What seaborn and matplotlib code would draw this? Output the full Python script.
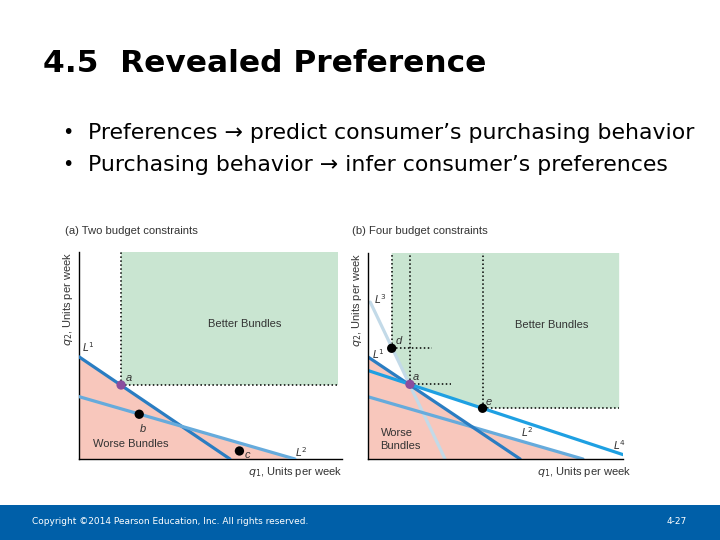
import matplotlib
matplotlib.use("Agg")
import matplotlib.pyplot as plt
import seaborn as sns
import numpy as np
import pandas as pd
from matplotlib.patches import Rectangle

# ---- data (q1 in 0-10, q2 in 0-8 axis units) ----
# panel (a): two budget lines, given as (q2 intercept, q1 intercept)
a_lines = ["L1", "L2"]
a_q2_int = [3.95, 2.41]
a_q1_int = [5.74, 8.21]
a_points = ["a", "b", "c"]
a_pt_q1 = [1.60, 2.29, 6.10]
a_pt_q2 = [2.86, 1.73, 0.31]

# panel (b): four budget lines
b_lines = ["L1", "L2", "L3", "L4"]
b_q2_int = [3.97, 2.42, 6.30, 3.44]
b_q1_int = [5.97, 8.43, 3.03, 10.52]
b_q1_start = [0.0, 0.0, 0.10, 0.0]
b_q1_end = [5.97, 8.43, 3.03, 10.0]
b_points = ["a", "d", "e"]
b_pt_q1 = [1.655, 0.94, 4.50]
b_pt_q2 = [2.90, 4.30, 1.97]

XMAX, YMAX = 10, 8
GREEN_RIGHT = 9.85

line_colors = {"L1": "#2a7dc2", "L2": "#66abdc", "L3": "#c3dae8", "L4": "#1ea0e2"}
GREEN = "#c9e5d1"
PINK = "#f8c7bc"
TXT = "#333333"

sns.set_style("white")
plt.rcParams["font.family"] = ["DejaVu Sans"]
plt.rcParams["mathtext.fontset"] = "dejavusans"
plt.rcParams["text.color"] = "black"

fig = plt.figure(figsize=(7.2, 5.4), dpi=100)


def budget_y(q2i, q1i, x):
    return np.clip(q2i * (1 - x / q1i), 0, None)


def style_axes(ax):
    ax.set_xlim(0, XMAX)
    ax.set_ylim(0, YMAX)
    ax.set_xticks([])
    ax.set_yticks([])
    ax.set_xlabel("")
    ax.set_ylabel("")
    for s in ["top", "right"]:
        ax.spines[s].set_visible(False)
    for s in ["left", "bottom"]:
        ax.spines[s].set_color("black")
        ax.spines[s].set_linewidth(1.0)
    ax.patch.set_alpha(0)


def lbl(ax, x, y, s, **kw):
    kw.setdefault("fontsize", 8)
    kw.setdefault("color", TXT)
    kw.setdefault("family", "Liberation Sans")
    ax.text(x, y, s, **kw)


dots = dict(color="black", lw=1.1, linestyle=(0, (1, 1.6)), zorder=2)

# ---------------- panel (a) ----------------
ax1 = fig.add_axes([79 / 720, 81 / 540, 263 / 720, 207 / 540])
xs = np.linspace(0, XMAX, 600)
worse = np.maximum(budget_y(a_q2_int[0], a_q1_int[0], xs), budget_y(a_q2_int[1], a_q1_int[1], xs))
ax1.fill_between(xs, 0, worse, color=PINK, lw=0, zorder=0)
pa = (a_pt_q1[0], a_pt_q2[0])
ax1.fill_between([pa[0], GREEN_RIGHT], pa[1], YMAX, color=GREEN, lw=0, zorder=0)
ax1.plot([pa[0], pa[0]], [pa[1], YMAX], **dots)
ax1.plot([pa[0], GREEN_RIGHT], [pa[1], pa[1]], **dots)

df_a = pd.DataFrame({
    "line": [n for n in a_lines for _ in range(2)],
    "q1": [v for q1 in a_q1_int for v in (0, q1)],
    "q2": [v for q2 in a_q2_int for v in (q2, 0)],
})
sns.lineplot(df_a, x="q1", y="q2", hue="line", palette=line_colors, estimator=None,
             lw=2.3, legend=False, ax=ax1, zorder=3)
sns.scatterplot(x=a_pt_q1, y=a_pt_q2, hue=a_points,
                palette={"a": "#8a4e9e", "b": "black", "c": "black"},
                s=45, edgecolor="none", legend=False, ax=ax1, zorder=4)
style_axes(ax1)

lbl(ax1, 6.3, 5.2, "Better Bundles", ha="center", va="center")
lbl(ax1, 1.95, 0.58, "Worse Bundles", ha="center", va="center")
lbl(ax1, 1.78, 3.03, "a", style="italic")
lbl(ax1, 2.32, 1.05, "b", style="italic")
lbl(ax1, 6.3, 0.05, "c", style="italic")
lbl(ax1, 0.12, 4.15, "$L^1$", family="DejaVu Sans", fontsize=7.5)
lbl(ax1, 8.2, 0.08, "$L^2$", family="DejaVu Sans", fontsize=7.5)
lbl(ax1, 10.0, -0.22, "$q_1$, Units per week", ha="right", va="top")
lbl(ax1, -0.42, YMAX, "$q_2$, Units per week", ha="center", va="top", rotation=90)
fig.text(65 / 720, 1 - 231 / 540, "(a) Two budget constraints", fontsize=8.1, color=TXT,
         family="Liberation Sans", va="center")

# ---------------- panel (b) ----------------
ax2 = fig.add_axes([367.7 / 720, 81 / 540, 255.3 / 720, 206 / 540])
worse_b = np.maximum(budget_y(b_q2_int[0], b_q1_int[0], xs), budget_y(b_q2_int[1], b_q1_int[1], xs))
ax2.fill_between(xs, 0, worse_b, color=PINK, lw=0, zorder=0)
pa, pd_, pe = [(b_pt_q1[i], b_pt_q2[i]) for i in range(3)]
green_x = [pd_[0], pd_[0], pa[0], pe[0], GREEN_RIGHT, GREEN_RIGHT]
green_y = [YMAX, pd_[1], pa[1], pe[1], pe[1], YMAX]
ax2.fill(green_x, green_y, color=GREEN, lw=0, zorder=0)
ax2.plot([pd_[0], pd_[0]], [pd_[1], YMAX], **dots)
ax2.plot([pd_[0], 2.52], [pd_[1], pd_[1]], **dots)
ax2.plot([pa[0], pa[0]], [pa[1], YMAX], **dots)
ax2.plot([pa[0], 3.26], [pa[1], pa[1]], **dots)
ax2.plot([pe[0], pe[0]], [pe[1], YMAX], **dots)
ax2.plot([pe[0], GREEN_RIGHT], [pe[1], pe[1]], **dots)

rows = []
for n, q2i, q1i, x0, x1 in zip(b_lines, b_q2_int, b_q1_int, b_q1_start, b_q1_end):
    for x in (x0, x1):
        rows.append((n, x, q2i * (1 - x / q1i)))
df_b = pd.DataFrame(rows, columns=["line", "q1", "q2"])
order = {"L3": 1, "L2": 2, "L1": 3, "L4": 4}
for n in ["L3", "L2", "L1", "L4"]:
    sns.lineplot(df_b[df_b.line == n], x="q1", y="q2", color=line_colors[n], estimator=None,
                 lw=2.3, legend=False, ax=ax2, zorder=2 + order[n] / 10)
sns.scatterplot(x=b_pt_q1, y=b_pt_q2, hue=b_points,
                palette={"a": "#8a4e9e", "d": "black", "e": "black"},
                s=45, edgecolor="none", legend=False, ax=ax2, zorder=4)
style_axes(ax2)

lbl(ax2, 7.2, 5.2, "Better Bundles", ha="center", va="center")
lbl(ax2, 0.5, 0.75, "Worse\nBundles", ha="left", va="center", linespacing=1.3)
lbl(ax2, 1.78, 3.05, "a", style="italic")
lbl(ax2, 1.1, 4.45, "d", style="italic")
lbl(ax2, 4.62, 2.1, "e", style="italic")
lbl(ax2, 0.25, 6.0, "$L^3$", family="DejaVu Sans", fontsize=7.5)
lbl(ax2, 0.15, 3.9, "$L^1$", family="DejaVu Sans", fontsize=7.5)
lbl(ax2, 6.0, 0.85, "$L^2$", family="DejaVu Sans", fontsize=7.5)
lbl(ax2, 9.6, 0.35, "$L^4$", family="DejaVu Sans", fontsize=7.5)
lbl(ax2, 10.3, -0.22, "$q_1$, Units per week", ha="right", va="top")
lbl(ax2, -0.42, YMAX, "$q_2$, Units per week", ha="center", va="top", rotation=90)
fig.text(352 / 720, 1 - 231 / 540, "(b) Four budget constraints", fontsize=8.1, color=TXT,
         family="Liberation Sans", va="center")

# ---------------- slide text ----------------
fig.text(43 / 720, 1 - 64 / 540, "4.5  Revealed Preference", fontsize=22.5, weight="bold",
         color="black", va="center")
fig.text(62 / 720, 1 - 133 / 540, "•", fontsize=14, va="center", color="black")
fig.text(88 / 720, 1 - 133 / 540, "Preferences \u2192 predict consumer\u2019s purchasing behavior",
         fontsize=15.8, va="center", color="black")
fig.text(62 / 720, 1 - 165 / 540, "•", fontsize=14, va="center", color="black")
fig.text(88 / 720, 1 - 165 / 540, "Purchasing behavior \u2192 infer consumer\u2019s preferences",
         fontsize=15.8, va="center", color="black")

fig.patches.append(Rectangle((0, 0), 1, 35 / 540, transform=fig.transFigure,
                             facecolor="#005fa8", edgecolor="none", zorder=0))
fig.text(32 / 720, 1 - 521 / 540, "Copyright \u00a92014 Pearson Education, Inc. All rights reserved.",
         fontsize=6.5, color="white", va="center")
fig.text(687 / 720, 1 - 521 / 540, "4-27", fontsize=6.5, color="white", va="center", ha="right")

fig.savefig("out.png", dpi=100)
